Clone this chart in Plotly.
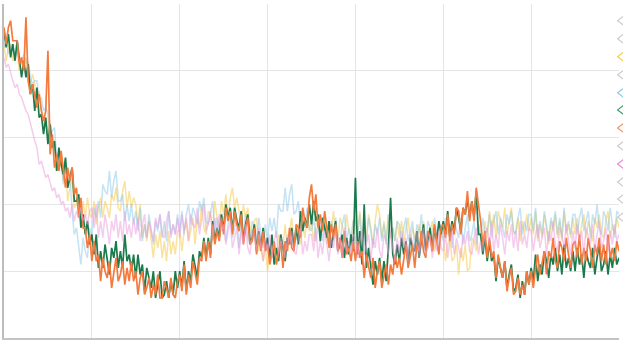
import plotly.graph_objects as go

# x positions (sample index)
x_index = list(range(281))

# Series values (0-100 scale)
green_vals = [
92, 87, 91, 84, 88, 83, 89, 84, 78, 83, 78, 82, 73, 76, 68, 75, 66, 67, 61, 66,
58, 64, 57, 59, 50, 57, 52, 49, 54, 45, 48, 51, 41, 41, 43, 33, 37, 31, 35, 28,
31, 25, 31, 21, 26, 21, 28, 24, 19, 27, 24, 29, 21, 26, 21, 31, 23, 25, 20, 25,
18, 25, 19, 22, 14, 21, 18, 15, 20, 12, 16, 20, 12, 13, 17, 12, 17, 13, 20, 15,
20, 15, 23, 14, 20, 17, 25, 22, 18, 26, 24, 30, 24, 30, 25, 35, 29, 33, 30, 37,
32, 40, 36, 39, 32, 39, 35, 33, 38, 29, 34, 37, 29, 30, 34, 26, 32, 27, 33, 27,
30, 24, 31, 22, 27, 23, 31, 27, 23, 30, 28, 33, 27, 33, 28, 38, 32, 36, 33, 40,
34, 41, 35, 37, 29, 36, 33, 30, 35, 27, 31, 35, 26, 28, 31, 24, 30, 25, 31, 26,
48, 25, 32, 22, 40, 21, 27, 22, 16, 23, 19, 24, 17, 23, 17, 27, 42, 25, 22, 28,
23, 30, 25, 29, 22, 30, 27, 26, 32, 24, 30, 34, 26, 29, 33, 26, 33, 29, 35, 31,
35, 31, 38, 30, 35, 32, 39, 36, 32, 39, 37, 42, 36, 41, 36, 44, 31, 31, 25, 30,
23, 29, 23, 25, 17, 24, 21, 18, 23, 15, 19, 22, 14, 15, 19, 12, 17, 13, 20, 16,
21, 17, 25, 17, 22, 19, 26, 23, 18, 25, 22, 27, 20, 25, 19, 28, 21, 24, 20, 26,
20, 27, 22, 25, 18, 26, 23, 21, 27, 19, 24, 28, 20, 22, 26, 19, 25, 21, 27, 22,
24]

orange_vals = [
93, 88, 93, 95, 89, 89, 89, 82, 84, 80, 96, 77, 73, 76, 73, 69, 73, 68, 65, 68,
86, 55, 61, 51, 55, 50, 56, 51, 45, 51, 47, 51, 43, 45, 36, 42, 33, 33, 27, 31,
23, 29, 23, 25, 17, 24, 20, 18, 23, 15, 20, 24, 17, 19, 23, 16, 21, 17, 23, 17,
20, 13, 18, 20, 13, 15, 18, 12, 16, 13, 19, 12, 12, 17, 15, 12, 18, 13, 12, 17,
19, 14, 22, 13, 19, 15, 23, 20, 16, 24, 23, 29, 23, 29, 24, 34, 28, 32, 29, 36,
31, 39, 35, 38, 31, 38, 34, 32, 37, 28, 33, 36, 28, 29, 33, 25, 31, 26, 32, 26,
28, 22, 26, 29, 22, 25, 29, 21, 29, 26, 33, 27, 26, 34, 33, 30, 39, 35, 33, 42,
46, 38, 43, 33, 37, 32, 38, 33, 27, 34, 30, 34, 26, 30, 24, 32, 25, 27, 23, 29,
23, 29, 24, 26, 18, 25, 21, 18, 24, 15, 20, 23, 15, 18, 22, 16, 22, 19, 25, 21,
24, 19, 24, 28, 21, 25, 28, 21, 28, 26, 32, 26, 24, 32, 30, 26, 34, 29, 25, 33,
34, 30, 37, 29, 34, 31, 39, 38, 31, 39, 37, 44, 35, 41, 35, 45, 40, 35, 28, 32,
24, 30, 24, 26, 18, 25, 21, 18, 23, 14, 18, 21, 13, 14, 18, 13, 16, 13, 20, 16,
20, 15, 21, 25, 19, 23, 26, 19, 26, 24, 30, 23, 21, 29, 27, 23, 30, 25, 21, 28,
29, 24, 31, 22, 27, 23, 30, 26, 21, 28, 25, 30, 23, 28, 22, 31, 24, 27, 23, 29,
26]

pink_vals = [
84, 81, 82, 79, 77, 75, 76, 73, 72, 70, 68, 67, 64, 62, 59, 57, 52, 53, 50, 48,
49, 46, 44, 45, 42, 43, 40, 41, 38, 39, 36, 40, 35, 38, 36, 39, 35, 37, 34, 38,
39, 33, 40, 30, 35, 30, 37, 33, 28, 35, 32, 37, 30, 35, 29, 38, 31, 34, 30, 36,
31, 36, 29, 34, 37, 30, 35, 32, 29, 36, 33, 37, 31, 30, 35, 38, 30, 34, 31, 36,
30, 37, 32, 36, 29, 37, 34, 33, 39, 31, 36, 40, 32, 34, 38, 30, 36, 32, 37, 32,
34, 28, 32, 35, 27, 30, 33, 25, 32, 28, 34, 27, 25, 32, 30, 26, 33, 27, 23, 30,
26, 31, 24, 29, 32, 25, 30, 27, 24, 31, 28, 32, 26, 25, 30, 33, 25, 29, 26, 31,
31, 26, 33, 24, 29, 25, 32, 28, 23, 30, 27, 32, 25, 30, 24, 33, 26, 29, 25, 31,
30, 24, 29, 32, 25, 28, 31, 23, 30, 27, 33, 26, 24, 31, 29, 25, 32, 27, 23, 30,
25, 32, 27, 30, 23, 31, 28, 26, 32, 24, 29, 33, 25, 27, 31, 24, 30, 26, 32, 27,
26, 31, 24, 29, 32, 25, 30, 27, 24, 31, 28, 32, 26, 25, 30, 33, 25, 29, 26, 31,
33, 28, 35, 26, 31, 27, 34, 30, 25, 32, 29, 34, 27, 32, 26, 35, 28, 31, 27, 33,
32, 26, 31, 34, 27, 30, 33, 25, 32, 29, 35, 28, 26, 33, 31, 27, 34, 29, 25, 32,
27, 34, 29, 32, 25, 33, 30, 28, 34, 26, 31, 35, 27, 29, 33, 26, 32, 28, 34, 29,
31]

blue_vals = [
87, 89, 85, 87, 88, 83, 86, 84, 82, 85, 82, 83, 78, 76, 77, 77, 71, 72, 68, 69,
67, 59, 62, 63, 54, 55, 56, 46, 51, 46, 49, 38, 31, 33, 28, 22, 30, 26, 24, 33,
30, 39, 36, 41, 36, 46, 44, 43, 50, 42, 47, 50, 41, 41, 43, 35, 40, 35, 40, 34,
38, 32, 39, 29, 34, 30, 37, 33, 28, 35, 32, 37, 30, 35, 29, 38, 31, 34, 31, 37,
32, 38, 31, 37, 40, 34, 39, 37, 34, 41, 38, 42, 35, 34, 38, 41, 32, 36, 32, 37,
36, 29, 34, 37, 30, 33, 36, 27, 34, 31, 37, 30, 28, 35, 33, 29, 36, 31, 27, 34,
29, 36, 32, 36, 30, 40, 38, 38, 45, 38, 43, 46, 37, 38, 41, 33, 38, 33, 39, 33,
32, 36, 29, 34, 36, 29, 34, 31, 28, 35, 32, 36, 30, 29, 34, 37, 29, 33, 30, 35,
35, 30, 37, 28, 33, 29, 36, 32, 27, 34, 31, 36, 29, 34, 28, 37, 30, 33, 29, 35,
34, 28, 33, 36, 29, 32, 35, 27, 34, 31, 37, 30, 28, 35, 33, 29, 36, 31, 27, 34,
29, 36, 31, 34, 27, 35, 32, 30, 36, 28, 33, 37, 29, 31, 35, 28, 34, 30, 36, 31,
32, 37, 30, 35, 38, 31, 36, 33, 30, 37, 34, 38, 32, 31, 36, 39, 31, 35, 32, 37,
37, 32, 39, 30, 35, 31, 38, 34, 29, 36, 33, 38, 31, 36, 30, 39, 32, 35, 31, 37,
37, 31, 36, 39, 32, 35, 38, 30, 37, 34, 40, 33, 31, 38, 36, 32, 39, 34, 30, 38,
37]

yellow_vals = [
88, 83, 87, 88, 83, 84, 86, 80, 84, 81, 84, 79, 76, 79, 76, 71, 74, 68, 64, 66,
60, 65, 58, 59, 50, 56, 51, 47, 51, 41, 45, 48, 39, 40, 43, 35, 41, 36, 42, 37,
36, 41, 34, 39, 42, 36, 41, 39, 36, 43, 41, 45, 39, 38, 44, 47, 39, 44, 39, 42,
40, 34, 40, 30, 34, 29, 35, 30, 24, 31, 27, 32, 24, 29, 23, 32, 25, 29, 25, 32,
32, 26, 32, 35, 29, 32, 36, 28, 36, 33, 40, 33, 31, 38, 37, 33, 41, 36, 33, 41,
37, 43, 36, 42, 45, 39, 42, 38, 34, 40, 36, 39, 33, 31, 35, 36, 26, 28, 23, 27,
20, 28, 24, 28, 22, 31, 29, 27, 34, 26, 32, 36, 28, 30, 34, 28, 34, 30, 37, 32,
35, 29, 34, 37, 30, 33, 36, 28, 35, 32, 38, 31, 29, 36, 34, 30, 37, 32, 28, 35,
36, 31, 38, 29, 34, 30, 37, 33, 28, 35, 40, 37, 30, 35, 29, 37, 30, 33, 29, 35,
30, 35, 28, 33, 36, 29, 33, 30, 27, 34, 31, 35, 28, 27, 32, 35, 26, 30, 27, 31,
30, 23, 28, 30, 23, 24, 28, 19, 27, 23, 28, 20, 21, 30, 29, 26, 34, 30, 27, 35,
30, 38, 33, 37, 30, 38, 35, 33, 39, 31, 35, 39, 31, 32, 36, 29, 35, 31, 37, 32,
36, 31, 38, 29, 34, 30, 37, 33, 28, 35, 32, 37, 30, 35, 29, 38, 31, 34, 30, 36,
31, 36, 29, 34, 37, 30, 35, 32, 29, 36, 33, 37, 31, 30, 35, 38, 30, 34, 31, 36,
33]

# Legend entries (12 series; inactive ones shown grey)
legend_names = ["S1", "S2", "S3", "S4", "S5", "S6", "S7", "S8", "S9", "S10", "S11", "S12"]
legend_colors = ["#cccccc", "#cccccc", "#f5cd50", "#cccccc", "#8ecbe8", "#3f9a6c",
                 "#f7926a", "#cccccc", "#e98ad8", "#cccccc", "#cccccc", "#cccccc"]
legend_y = [0.95, 0.896, 0.842, 0.788, 0.734, 0.683, 0.629, 0.575, 0.521, 0.467, 0.416, 0.362]

series = [
    ("S3", yellow_vals, "#f5c842", 0.5, 1.5),
    ("S5", blue_vals, "#8cc8e8", 0.5, 1.5),
    ("S6", green_vals, "#1b7a4c", 1.0, 1.7),
    ("S7", orange_vals, "#f47a3e", 1.0, 1.7),
    ("S9", pink_vals, "#ec9ade", 0.5, 1.5),
]

fig = go.Figure()
for name, vals, color, op, lw in series:
    fig.add_trace(go.Scatter(x=x_index, y=vals, mode="lines", name=name,
                             line=dict(color=color, width=lw), opacity=op,
                             showlegend=False, hoverinfo="skip"))

layout_legends = {}
for k, (nm, col, ly) in enumerate(zip(legend_names, legend_colors, legend_y)):
    key = "legend" if k == 0 else f"legend{k+1}"
    fig.add_trace(go.Scatter(x=[None], y=[None], mode="markers", name=nm,
                             marker=dict(symbol="triangle-left-open", size=8, color=col,
                                         line=dict(color=col, width=1.2)),
                             legend=key, showlegend=True))
    layout_legends[key] = dict(x=0.9717, xanchor="left", y=ly, yanchor="middle",
                               bgcolor="rgba(0,0,0,0)", borderwidth=0,
                               font=dict(size=11, color="#999999"))

fig.update_layout(
    width=623, height=358,
    margin=dict(l=4, r=4, t=4, b=20, autoexpand=False),
    paper_bgcolor="white", plot_bgcolor="white",
    xaxis=dict(range=[0, 280], dtick=40, tick0=0, showgrid=True, gridcolor="#e5e5e5",
               gridwidth=1, showline=True, linecolor="#c4c4c4", linewidth=1.5,
               showticklabels=False, ticks="", zeroline=False),
    yaxis=dict(range=[0, 100], dtick=20, tick0=0, showgrid=True, gridcolor="#e5e5e5",
               gridwidth=1, showline=True, linecolor="#bdbdbd", linewidth=2,
               showticklabels=False, ticks="", zeroline=False),
    **layout_legends,
)

fig.write_html("out.html", config={"displayModeBar": False},
               post_script="document.body.style.margin='0';")
